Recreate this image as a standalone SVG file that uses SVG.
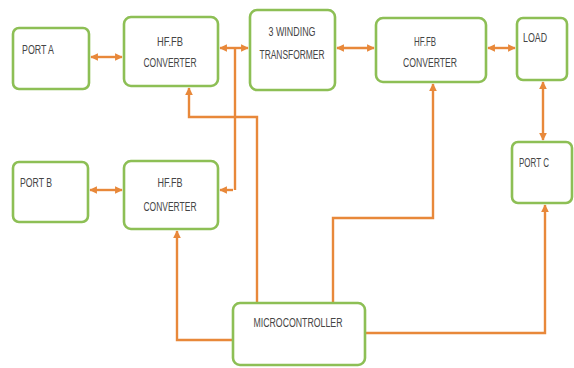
<svg xmlns="http://www.w3.org/2000/svg" width="574" height="368" viewBox="0 0 574 368">
<defs>
<marker id="ah" viewBox="0 0 10 10" refX="9" refY="5" markerWidth="3.2" markerHeight="3.2" orient="auto-start-reverse" markerUnits="strokeWidth">
<path d="M0,0 L10,5 L0,10 Z" fill="#E8883A"/>
</marker>
<style>
.box{fill:#fff;stroke:#8DBF55;stroke-width:2.6}
.t{font-family:"Liberation Sans",Arial,sans-serif;font-size:12px;fill:#454545}
.c{stroke:#E8883A;stroke-width:2.4;fill:none}
</style>
</defs>
<rect width="574" height="368" fill="#fff"/>
<g id="connectors">
<path class="c" d="M91,57 H122" marker-start="url(#ah)" marker-end="url(#ah)"/>
<path class="c" d="M220,48 H248" marker-start="url(#ah)" marker-end="url(#ah)"/>
<path class="c" d="M235,48 V190"/>
<path class="c" d="M220,190 H233" marker-start="url(#ah)"/>
<path class="c" d="M257,303 V117 H189 V88" marker-end="url(#ah)"/>
<path class="c" d="M337,48 H374" marker-start="url(#ah)" marker-end="url(#ah)"/>
<path class="c" d="M488,48 H515" marker-start="url(#ah)" marker-end="url(#ah)"/>
<path class="c" d="M543,82 V140" marker-start="url(#ah)" marker-end="url(#ah)"/>
<path class="c" d="M90,190 H122" marker-start="url(#ah)" marker-end="url(#ah)"/>
<path class="c" d="M233,340 H177 V231" marker-end="url(#ah)"/>
<path class="c" d="M333,303 V218 H433 V84" marker-end="url(#ah)"/>
<path class="c" d="M365,333 H545 V205" marker-end="url(#ah)"/>
</g>
<g id="portA">
<rect class="box" x="13" y="28" width="76" height="61" rx="6"/>
<text class="t" x="22" y="54" textLength="32" lengthAdjust="spacingAndGlyphs">PORT A</text>
</g>
<g id="hffb1">
<rect class="box" x="124" y="17" width="94" height="69" rx="7"/>
<text class="t" x="170" y="46" text-anchor="middle" textLength="26" lengthAdjust="spacingAndGlyphs">HF.FB</text>
<text class="t" x="170" y="67" text-anchor="middle" textLength="53" lengthAdjust="spacingAndGlyphs">CONVERTER</text>
</g>
<g id="transformer">
<rect class="box" x="250" y="10" width="85" height="80" rx="7"/>
<text class="t" x="292" y="36" text-anchor="middle" textLength="47" lengthAdjust="spacingAndGlyphs">3 WINDING</text>
<text class="t" x="292" y="59" text-anchor="middle" textLength="65" lengthAdjust="spacingAndGlyphs">TRANSFORMER</text>
</g>
<g id="hffb2">
<rect class="box" x="376" y="18" width="110" height="64" rx="7"/>
<text class="t" x="425" y="46" text-anchor="middle" textLength="22" lengthAdjust="spacingAndGlyphs">HF.FB</text>
<text class="t" x="430" y="67" text-anchor="middle" textLength="54" lengthAdjust="spacingAndGlyphs">CONVERTER</text>
</g>
<g id="load">
<rect class="box" x="517" y="18" width="50" height="62" rx="6"/>
<text class="t" x="523" y="42" textLength="24" lengthAdjust="spacingAndGlyphs">LOAD</text>
</g>
<g id="portC">
<rect class="box" x="512" y="142" width="60" height="61" rx="6"/>
<text class="t" x="519" y="167" textLength="30" lengthAdjust="spacingAndGlyphs">PORT C</text>
</g>
<g id="portB">
<rect class="box" x="13" y="162" width="75" height="60" rx="6"/>
<text class="t" x="20" y="187" textLength="32" lengthAdjust="spacingAndGlyphs">PORT B</text>
</g>
<g id="hffb3">
<rect class="box" x="124" y="161" width="94" height="68" rx="7"/>
<text class="t" x="170" y="187" text-anchor="middle" textLength="25" lengthAdjust="spacingAndGlyphs">HF.FB</text>
<text class="t" x="170" y="211" text-anchor="middle" textLength="53" lengthAdjust="spacingAndGlyphs">CONVERTER</text>
</g>
<g id="micro">
<rect class="box" x="233" y="303" width="132" height="62" rx="7"/>
<text class="t" x="298" y="327" text-anchor="middle" textLength="89" lengthAdjust="spacingAndGlyphs">MICROCONTROLLER</text>
</g>
</svg>
